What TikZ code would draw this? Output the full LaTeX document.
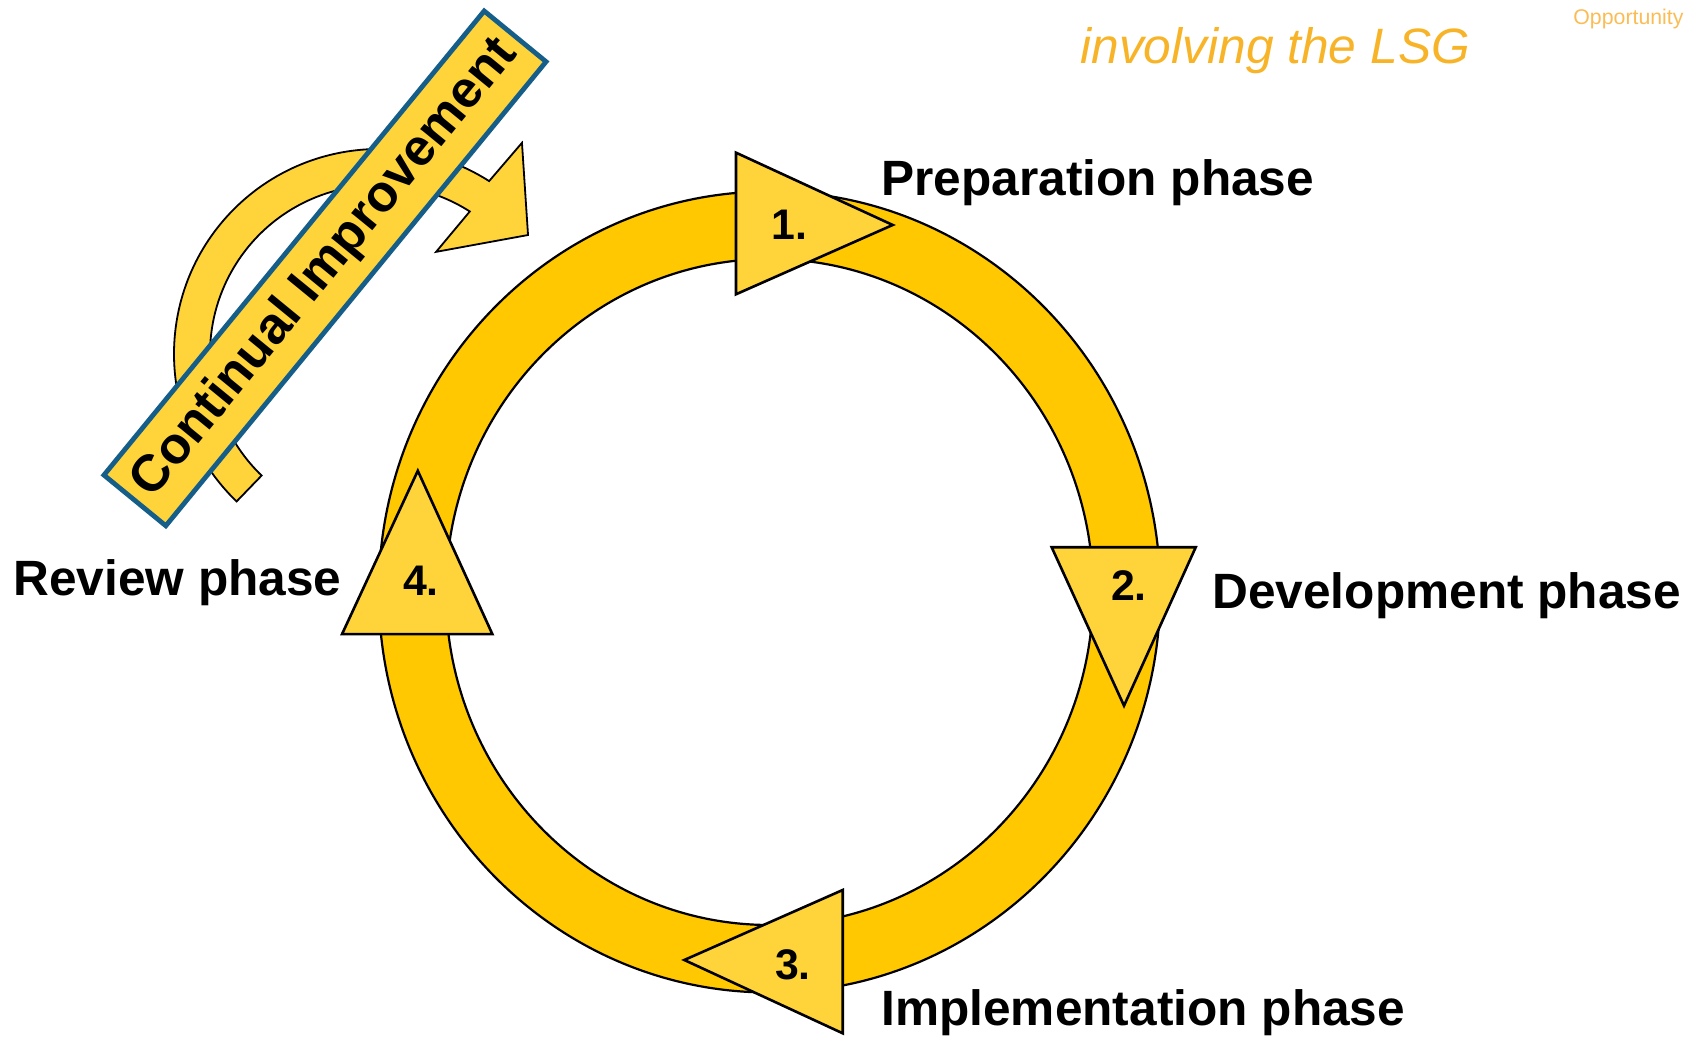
\documentclass[tikz,border=0pt]{standalone}
\usepackage{fontspec}
\setmainfont{Liberation Sans}
\usepackage{tikz}
\definecolor{ringyellow}{RGB}{255,200,0}
\definecolor{lightyellow}{RGB}{255,212,59}
\definecolor{banblue}{RGB}{22,94,138}
\definecolor{lsgorange}{RGB}{248,180,40}
\definecolor{oppyellow}{RGB}{250,188,85}

\begin{document}
\begin{tikzpicture}[x=0.5pt, y=0.5pt,
  phase/.style={anchor=base west, inner sep=0pt, font=\fontsize{24.8}{30}\selectfont\bfseries},
  num/.style={inner sep=0pt, font=\fontsize{21.4}{26}\selectfont\bfseries},
  tri/.style={draw=black, line width=1.3pt, fill=lightyellow},
  banner/.style={draw=banblue, line width=2.4pt, fill=lightyellow, minimum width=300pt, minimum height=40pt, inner sep=0pt, font=\fontsize{25.8}{30}\selectfont\bfseries}]
  \useasboundingbox (0,0) rectangle (1697,1038);
  \coordinate (o) at (769.5,446);
  \coordinate (c) at (379,684);
  % cycle ring
  \draw[line width=1.1pt, fill=ringyellow, even odd rule]
    (o) ellipse [x radius=390.7, y radius=400.5]
    (o) ellipse [x radius=323.6, y radius=333];
  \draw[tri] (736,885.3) -- (736,743.7) -- (892.7,813) -- cycle;
  \draw[tri] (1051.7,490.7) -- (1195.7,490.7) -- (1124,332.3) -- cycle;
  \draw[tri] (842.7,148) -- (842.7,4.7) -- (684.3,78) -- cycle;
  \draw[tri] (417.8,567.2) -- (342,403.8) -- (492.4,403.8) -- cycle;
  \node (n1) [num] at (789.5,813) {1.};
  \node (n2) [num] at (1129,452.5) {2.};
  \node (n3) [num] at (793,73.3) {3.};
  \node (n4) [num] at (421,457) {4.};
  \node (prep) [phase] at (881,842) {Preparation phase};
  \node (dev) [phase] at (1212,429) {Development phase};
  \node (impl) [phase] at (881,12) {Implementation phase};
  \node (rev) [phase] at (13,442) {Review phase};
  % continual improvement
  \draw[fill=lightyellow, line width=0.9pt]
    (c) ++(226:205) arc[start angle=226, end angle=57.5, radius=205]
    -- ([shift={(55.9:255)}]c) -- ([shift={(38.6:190.7)}]c)
    -- ([shift={(60.8:117)}]c) -- ([shift={(57.5:169)}]c)
    arc[start angle=57.5, end angle=226, radius=169] -- cycle;
  \node (ci) [banner, rotate=50.67] at (325,769.6) {Continual Improvement};
  \node (lsg) [anchor=base west, inner sep=0pt, text=lsgorange, font=\fontsize{24.85}{30}\selectfont\itshape] at (1080,974) {involving the LSG};
  \node (opp) [anchor=base west, inner sep=0pt, text=oppyellow, font=\fontsize{10.65}{13}\selectfont] at (1573,1013) {Opportunity};
\end{tikzpicture}
\end{document}
